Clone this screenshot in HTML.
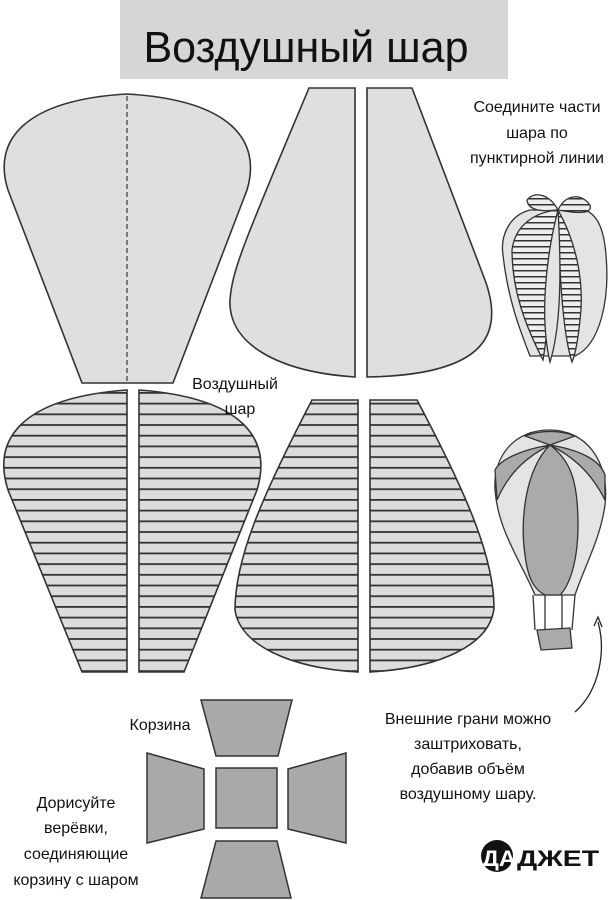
<!DOCTYPE html>
<html><head><meta charset="utf-8"><style>
html,body{margin:0;padding:0;background:#fff;}
svg{display:block}
text{font-family:"Liberation Sans",sans-serif;fill:#111}
</style></head><body>
<svg width="616" height="900" viewBox="0 0 616 900" xmlns="http://www.w3.org/2000/svg">
<defs>
<pattern id="st" patternUnits="userSpaceOnUse" width="10" height="10.7" y="392">
<rect width="10" height="10.7" fill="#dcdcdc"/>
<rect y="0" width="10" height="1.8" fill="#333"/>
</pattern>
<pattern id="st2" patternUnits="userSpaceOnUse" width="10" height="6">
<rect width="10" height="6" fill="#eee"/>
<rect width="10" height="1.5" fill="#333"/>
</pattern>
</defs>
<rect x="120" y="0" width="388" height="79" fill="#d6d6d6"/>
<text x="306" y="62" font-size="44" text-anchor="middle" textLength="325" lengthAdjust="spacingAndGlyphs">Воздушный шар</text>

<g stroke="#333" stroke-width="1.6" fill="#dedfe0">
<path d="M82,383 L8,190 C-8,140 25,100 127,94 C230,100 262,140 247,190 L173,383 Z"/>
<path d="M309,88 L355,88 L355,377 C280,372 228,345 230,300 C232,270 245,240 309,88Z"/>
<path d="M367,88 L412,88 L485,280 C505,335 485,375 367,377 Z"/>
</g>
<line x1="127" y1="96" x2="127" y2="382" stroke="#444" stroke-width="1.3" stroke-dasharray="5,3"/>

<g stroke="#333" stroke-width="1.6" fill="url(#st)">
<path d="M127,390 L127,672 L82,672 L8,490 C-8,440 20,398 127,390Z"/>
<path d="M139,390 L139,672 L184,672 L257,490 C272,440 245,398 139,390Z"/>
<path d="M312,400 L358,400 L358,672 C290,668 240,645 235,610 C235,560 260,500 312,400Z"/>
<path d="M370,400 L417,400 C470,500 494,560 494,608 C490,645 440,668 370,672Z"/>
</g>

<g stroke="#333" stroke-width="1.5" fill="#a9a9a9">
<path d="M201,700 L292,700 L278,756 L216,756Z"/>
<rect x="216" y="768" width="61" height="60"/>
<path d="M147,753 L204,769 L204,829 L147,843Z"/>
<path d="M346,753 L288,769 L288,829 L346,843Z"/>
<path d="M216,841 L277,841 L291,898 L201,898Z"/>
</g>

<!-- small striped balloon -->
<g stroke="#333" stroke-width="1.3">
<path d="M530,210 C510,215 500,235 503,255 C508,300 520,330 530,356 L575,356 C600,345 610,300 606,255 C604,230 598,215 585,210Z" fill="#e4e4e4"/>
<path d="M527,200 C535,190 550,195 558,210 C565,195 580,192 590,205 C592,212 585,215 558,210 C540,212 528,210 527,200Z" fill="url(#st2)"/>
<path d="M558,210 C535,212 515,225 512,250 C512,290 525,325 543,360 C548,330 552,280 558,210Z" fill="url(#st2)"/>
<path d="M558,210 C575,240 585,280 580,320 C578,340 575,355 572,362 C565,340 560,300 558,210Z" fill="url(#st2)"/>
<path d="M558,210 C545,260 540,320 550,362 C560,330 562,280 558,210Z" fill="#e4e4e4"/>
</g>

<!-- hot air balloon -->
<g stroke="#333" stroke-width="1.3">
<path d="M550,430 C585,430 610,460 605,505 C600,540 585,565 575,595 L535,595 C520,560 498,530 495,490 C493,455 515,430 550,430Z" fill="#e4e4e4"/>
<path d="M550,445 C520,450 500,460 495,470 L497,500 C510,470 530,455 550,445Z" fill="#aaa"/>
<path d="M550,445 C580,450 600,460 605,475 L605,500 C590,470 570,455 550,445Z" fill="#aaa"/>
<path d="M525,436 C540,430 560,430 575,436 L550,445Z" fill="#aaa"/>
<path d="M550,445 C525,470 520,520 525,555 C528,580 535,590 545,595 L560,595 C570,585 578,560 578,525 C578,480 570,460 550,445Z" fill="#aaa"/>
<path d="M533,595 L535,630 M575,595 L572,630 M545,595 L545,630 M562,595 L562,630" fill="none"/>
<path d="M537,630 L570,628 L572,648 L541,650Z" fill="#aaa"/>
</g>
<path d="M598,622 C606,650 600,690 575,712" fill="none" stroke="#222" stroke-width="1.3"/>
<path d="M594,626 L598,617 L602,627" fill="none" stroke="#222" stroke-width="1.3"/>

<g font-size="16" text-anchor="middle">
<text x="537" y="112">Соедините части</text>
<text x="537" y="138">шара по</text>
<text x="537" y="163">пунктирной линии</text>
<text x="235" y="389">Воздушный</text>
<text x="240" y="414">шар</text>
<text x="160" y="730">Корзина</text>
<text x="468" y="724">Внешние грани можно</text>
<text x="468" y="749">заштриховать,</text>
<text x="468" y="774">добавив объём</text>
<text x="468" y="799">воздушному шару.</text>
<text x="76" y="808">Дорисуйте</text>
<text x="76" y="833">верёвки,</text>
<text x="76" y="859">соединяющие</text>
<text x="76" y="885">корзину с шаром</text>
</g>
<circle cx="497" cy="856" r="16" fill="#111"/>
<text x="482" y="866" font-size="22" font-weight="bold" textLength="34" lengthAdjust="spacingAndGlyphs" fill="#fff" style="fill:#fff">ДА</text>
<text x="517" y="866" font-size="22" font-weight="bold" textLength="82" lengthAdjust="spacingAndGlyphs">ДЖЕТ</text>
</svg>
</body></html>
